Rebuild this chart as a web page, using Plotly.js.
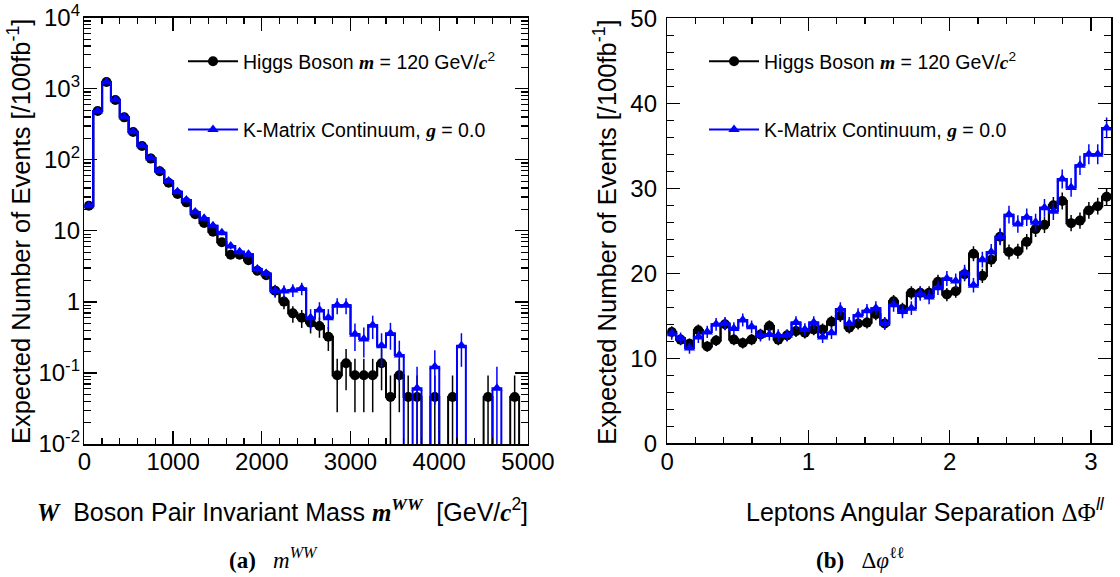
<!DOCTYPE html>
<html><head><meta charset="utf-8">
<script src="https://cdn.plot.ly/plotly-3.0.1.min.js"></script>
<style>html,body{margin:0;padding:0;background:#fff}#chart{width:1120px;height:577px}</style>
</head><body><div id="chart"></div>
<script>
// ---------- data: (a) W boson pair invariant mass ----------
var mwwRange = [0, 5000];
var mwwBins = 50;
var mwwHiggs = [22.6, 486, 1245, 695, 396, 246, 156, 104, 68.9, 47.6,
  33.0, 25.2, 17.1, 12.9, 9.7, 6.9, 4.6, 4.6, 3.85, 2.75,
  2.37, 1.44, 1.01, 0.69, 0.60, 0.51, 0.458, 0.324, 0.093, 0.137,
  0.093, 0.093, 0.093, 0.137, 0.046, 0.093, 0.046, 0.046, 0, 0.046,
  0, 0.046, 0, 0, 0, 0.046, 0, 0, 0.046, 0];
var mwwHiggsErr = [1.0, 4.7, 7.6, 5.7, 4.3, 3.4, 2.7, 2.2, 1.8, 1.5,
  1.2, 1.08, 0.89, 0.77, 0.67, 0.56, 0.46, 0.46, 0.42, 0.36,
  0.33, 0.26, 0.22, 0.18, 0.17, 0.15, 0.145, 0.12, 0.065, 0.08,
  0.065, 0.065, 0.065, 0.08, 0.046, 0.065, 0.046, 0.046, 0, 0.046,
  0, 0.046, 0, 0, 0, 0.046, 0, 0, 0.046, 0];
var mwwKMatrix = [22.6, 486, 1245, 700, 400, 248, 158, 106, 70.5, 50.4,
  35.6, 27.2, 18.4, 15.0, 11.8, 9.4, 6.1, 5.1, 4.7, 2.9,
  2.52, 1.44, 1.42, 1.47, 1.55, 0.60, 0.77, 0.60, 0.90, 0.90,
  0.35, 0.30, 0.47, 0.242, 0.36, 0.179, 0, 0.061, 0, 0.122,
  0, 0, 0.242, 0, 0, 0, 0.061, 0, 0, 0];
var mwwKMatrixErr = [1.17, 5.4, 8.7, 6.5, 4.9, 3.9, 3.1, 2.5, 2.1, 1.75,
  1.47, 1.29, 1.06, 0.96, 0.85, 0.76, 0.61, 0.56, 0.54, 0.42,
  0.39, 0.30, 0.29, 0.30, 0.31, 0.19, 0.22, 0.19, 0.23, 0.23,
  0.146, 0.135, 0.17, 0.12, 0.148, 0.105, 0, 0.061, 0, 0.086,
  0, 0, 0.12, 0, 0, 0, 0.061, 0, 0, 0];

// ---------- data: (b) lepton angular separation ----------
var dphiRange = [0, Math.PI];
var dphiBins = 50;
var dphiHiggs = [13.1, 12.2, 11.7, 13.3, 11.4, 12.1, 14.0, 12.2, 11.8, 12.2,
  12.8, 13.8, 12.2, 12.7, 13.2, 13.0, 13.4, 13.4, 14.3, 15.0,
  13.6, 14.1, 14.2, 15.2, 14.1, 16.7, 15.8, 17.7, 17.7, 17.7,
  19.0, 17.5, 17.9, 19.9, 22.3, 19.7, 21.6, 24.3, 22.5, 22.6,
  23.7, 25.2, 25.7, 28.0, 28.5, 25.9, 26.2, 27.4, 27.9, 29.0];
var dphiHiggsErr = [0.68, 0.65, 0.64, 0.68, 0.63, 0.65, 0.70, 0.65, 0.64, 0.65,
  0.67, 0.69, 0.65, 0.67, 0.68, 0.67, 0.68, 0.68, 0.71, 0.72,
  0.69, 0.70, 0.70, 0.73, 0.70, 0.76, 0.74, 0.79, 0.79, 0.79,
  0.82, 0.78, 0.79, 0.83, 0.88, 0.83, 0.87, 0.92, 0.89, 0.89,
  0.91, 0.94, 0.95, 0.99, 1.0, 0.95, 0.96, 0.98, 0.99, 1.0];
var dphiKMatrix = [12.9, 12.35, 11.2, 12.5, 13.1, 14.0, 14.1, 13.5, 14.5, 13.7,
  12.7, 12.8, 12.7, 12.7, 14.2, 13.4, 14.2, 12.5, 13.0, 15.8,
  14.1, 15.1, 15.6, 15.9, 14.1, 16.3, 15.5, 15.9, 17.6, 17.2,
  18.3, 19.4, 19.1, 20.1, 18.6, 21.6, 22.5, 24.3, 26.9, 25.8,
  26.6, 26.0, 27.7, 27.3, 31.1, 30.1, 32.7, 34.0, 34.0, 37.1];
var dphiKMatrixErr = [0.72, 0.70, 0.67, 0.71, 0.72, 0.75, 0.75, 0.73, 0.76, 0.74,
  0.71, 0.72, 0.71, 0.71, 0.75, 0.73, 0.75, 0.71, 0.72, 0.8,
  0.75, 0.78, 0.79, 0.8, 0.75, 0.81, 0.79, 0.8, 0.84, 0.83,
  0.86, 0.88, 0.87, 0.9, 0.86, 0.93, 0.95, 0.99, 1.04, 1.02,
  1.03, 1.02, 1.05, 1.04, 1.12, 1.1, 1.14, 1.17, 1.17, 1.22];

// ---------- labels ----------
var serif = "'Liberation Serif','DejaVu Serif',serif";
function bi(s){ return '<span style="font-family:' + serif + '"><b><i>' + s + '</i></b></span>'; }
var nameHiggs = 'Higgs Boson ' + bi('m') + ' = 120 GeV/' + bi('c') + '<sup>2</sup>';
var nameKMatrix = 'K-Matrix Continuum, ' + bi('g') + ' = 0.0';
var logTickVals = [0.01, 0.1, 1, 10, 100, 1000, 10000];
var logTickText = ['10<sup>-2</sup>', '10<sup>-1</sup>', '1', '10', '10<sup>2</sup>', '10<sup>3</sup>', '10<sup>4</sup>'];
var yTitle = 'Expected Number of Events [/100fb<sup>-1</sup>]';

// ---------- helpers (binning only) ----------
function binEdges(r, n){ var e = []; for (var i = 0; i <= n; i++) e.push(r[0] + (r[1]-r[0])*i/n); return e; }
function binCenters(r, n){ var c = []; for (var i = 0; i < n; i++) c.push(r[0] + (r[1]-r[0])*(i+0.5)/n); return c; }
function stepY(vals, floor){ var y = vals.map(function(v){ return (floor !== undefined && v <= 0) ? floor : v; }); y.push(y[y.length-1]); return y; }
function pointY(vals, isLog){ return vals.map(function(v){ return (isLog && v <= 0) ? null : v; }); }

var BLACK = '#000000', BLUE = '#0000ff';
var traces = [];
function addHist(xr, n, vals, errs, color, symbol, name, xa, ya, isLog, leg, grp){
  traces.push({type:'scatter', mode:'lines', x: binEdges(xr, n), y: stepY(vals, isLog ? 1e-6 : undefined),
    line:{shape:'hv', color:color, width:2}, xaxis:xa, yaxis:ya, showlegend:false, hoverinfo:'skip'});
  traces.push({type:'scatter', mode:'lines+markers', x: binCenters(xr, n), y: pointY(vals, isLog),
    line:{shape:'hvh', color:color, width:2}, marker:{symbol:symbol, size:10, color:color},
    error_y:{type:'data', array: errs, visible:true, color:color, thickness:1.5, width:0},
    xaxis:xa, yaxis:ya, name:name, legend:leg, legendgroup:grp});
}
addHist(mwwRange, mwwBins, mwwHiggs, mwwHiggsErr, BLACK, 'circle', nameHiggs, 'x', 'y', true, 'legend', 'a1');
addHist(mwwRange, mwwBins, mwwKMatrix, mwwKMatrixErr, BLUE, 'triangle-up', nameKMatrix, 'x', 'y', true, 'legend', 'a2');
addHist(dphiRange, dphiBins, dphiHiggs, dphiHiggsErr, BLACK, 'circle', nameHiggs, 'x2', 'y2', false, 'legend2', 'b1');
addHist(dphiRange, dphiBins, dphiKMatrix, dphiKMatrixErr, BLUE, 'triangle-up', nameKMatrix, 'x2', 'y2', false, 'legend2', 'b2');

var minorLog = [];
for (var k = -2; k < 4; k++) for (var m = 2; m <= 9; m++) minorLog.push(m * Math.pow(10, k));

var axBase = {showline:true, linecolor:'black', linewidth:1.5, mirror:'allticks', ticks:'inside',
  tickcolor:'black', tickwidth:1.2, showgrid:false, zeroline:false, tickfont:{size:24, color:'black'}};
function ax(extra){ var o = JSON.parse(JSON.stringify(axBase)); for (var k in extra) o[k] = extra[k]; return o; }

var layout = {
  width:1120, height:577, margin:{l:0, r:0, t:0, b:0}, paper_bgcolor:'white', plot_bgcolor:'white',
  font:{family:"'Liberation Sans', Arial, sans-serif", color:'black', size:22},
  showlegend:true,
  xaxis: ax({domain:[0.0753, 0.4714], range:mwwRange, tickmode:'linear', tick0:0, dtick:1000, ticklen:13, ticklabelstandoff:-4,
    minor:{dtick:200, ticks:'inside', ticklen:6, tickcolor:'black', tickwidth:1.2}, anchor:'y'}),
  yaxis: ax({domain:[0.2305, 0.9693], type:'log', range:[-2, 4], tickmode:'array', tickvals:logTickVals, ticktext:logTickText,
    ticklen:13, ticklabelstandoff:-2, minor:{tickmode:'array', tickvals:minorLog, ticks:'inside', ticklen:7, tickcolor:'black', tickwidth:1.2}, anchor:'x'}),
  xaxis2: ax({domain:[0.5958, 0.992], range:dphiRange, tickmode:'linear', tick0:0, dtick:1, ticklen:13, ticklabelstandoff:-4,
    minor:{dtick:0.2, ticks:'inside', ticklen:6, tickcolor:'black', tickwidth:1.2}, anchor:'y2'}),
  yaxis2: ax({domain:[0.2317, 0.9683], range:[0, 50], tickmode:'linear', tick0:0, dtick:10, ticklen:13, ticklabelstandoff:4,
    minor:{dtick:2, ticks:'inside', ticklen:7, tickcolor:'black', tickwidth:1.2}, anchor:'x2'}),
  legend: {x:0.1634, y:0.9272, xanchor:'left', yanchor:'top', bgcolor:'rgba(0,0,0,0)', font:{size:19.5}, tracegroupgap:40, itemwidth:50},
  legend2: {x:0.6286, y:0.9272, xanchor:'left', yanchor:'top', bgcolor:'rgba(0,0,0,0)', font:{size:19.5}, tracegroupgap:40, itemwidth:50},
  annotations: [
    {xref:'paper', yref:'paper', x:0.4732, y:0.1161, xanchor:'right', yanchor:'middle', showarrow:false, font:{size:25},
     text: bi('W') + '  Boson Pair Invariant Mass ' + bi('m') + '<sup>' + bi('WW') + '</sup>  [GeV/' + bi('c') + '<sup>2</sup>]'},
    {xref:'paper', yref:'paper', x:0.9884, y:0.1161, xanchor:'right', yanchor:'middle', showarrow:false, font:{size:25},
     text: 'Leptons Angular Separation <span style="font-family:' + serif + '">ΔΦ</span><sup><i>ll</i></sup>'},
    {xref:'paper', yref:'paper', x:0.0175, y:0.5988, xanchor:'center', yanchor:'middle', textangle:-90, showarrow:false, font:{size:25.5},
     text: yTitle},
    {xref:'paper', yref:'paper', x:0.5405, y:0.5988, xanchor:'center', yanchor:'middle', textangle:-90, showarrow:false, font:{size:25.5},
     text: yTitle},
    {xref:'paper', yref:'paper', x:0.2438, y:0.004, xanchor:'center', yanchor:'bottom', showarrow:false,
     font:{size:23, family:serif}, text:'<b>(a)</b>   <i>m</i><sup><i>WW</i></sup>'},
    {xref:'paper', yref:'paper', x:0.7679, y:0.004, xanchor:'center', yanchor:'bottom', showarrow:false,
     font:{size:23, family:serif}, text:'<b>(b)</b>   Δ<i>φ</i><sup>ℓℓ</sup>'}
  ]
};
Plotly.newPlot('chart', traces, layout, {staticPlot:true, displayModeBar:false});
</script></body></html>
